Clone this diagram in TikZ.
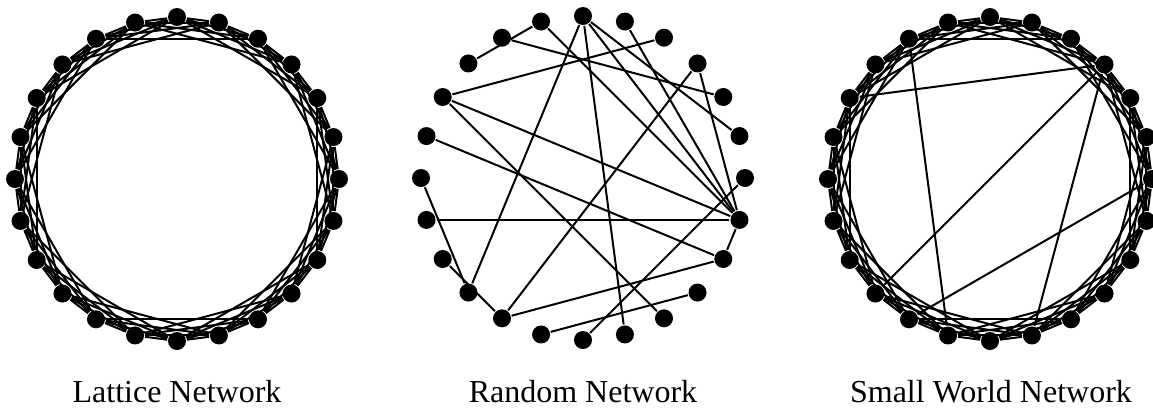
\documentclass[tikz,border=0pt]{standalone}
\usepackage{fontspec}
\setmainfont{Liberation Serif}
\begin{document}
\begin{tikzpicture}[x=.5pt,y=-.5pt,line width=1pt,
  dot/.style={circle,fill=black,inner sep=0pt,minimum size=9pt},
  caption/.style={anchor=base,inner sep=0pt,font=\fontsize{16}{19}\selectfont}]
\path[use as bounding box] (0,0) rectangle (1153,408);
\foreach \k in {0,...,23} {
  \path (177,179) ++({15*\k-90}:162) node[dot] (L\k) {};
  \path (583,178) ++({15*\k-90}:162) node[dot] (R\k) {};
  \path (990,179) ++({15*\k-90}:162) node[dot] (S\k) {};
}
% lattice and small world rings
\foreach \k in {0,...,23} {
  \foreach \s in {1,...,4} {
    \pgfmathtruncatemacro\j{mod(\k+\s,24)}
    \draw (L\k) -- (L\j);
    \draw (S\k) -- (S\j);
  }
}
% random links
\foreach \a/\b in {21/23,22/4,23/7,0/15,0/11,0/7,0/5,1/7,2/20,3/14,3/7,20/7,20/10,
  19/8,18/15,17/7,16/14,14/8,13/9,12/6,7/8}
  \draw (R\a) -- (R\b);
% shortcuts
\foreach \a/\b in {22/13,20/3,3/15,3/11,6/14}
  \draw (S\a) -- (S\b);
\node[caption] (capL) at (177,402) {Lattice Network};
\node[caption] (capR) at (583,402) {Random Network};
\node[caption] (capS) at (991,402) {Small World Network};
\end{tikzpicture}
\end{document}
